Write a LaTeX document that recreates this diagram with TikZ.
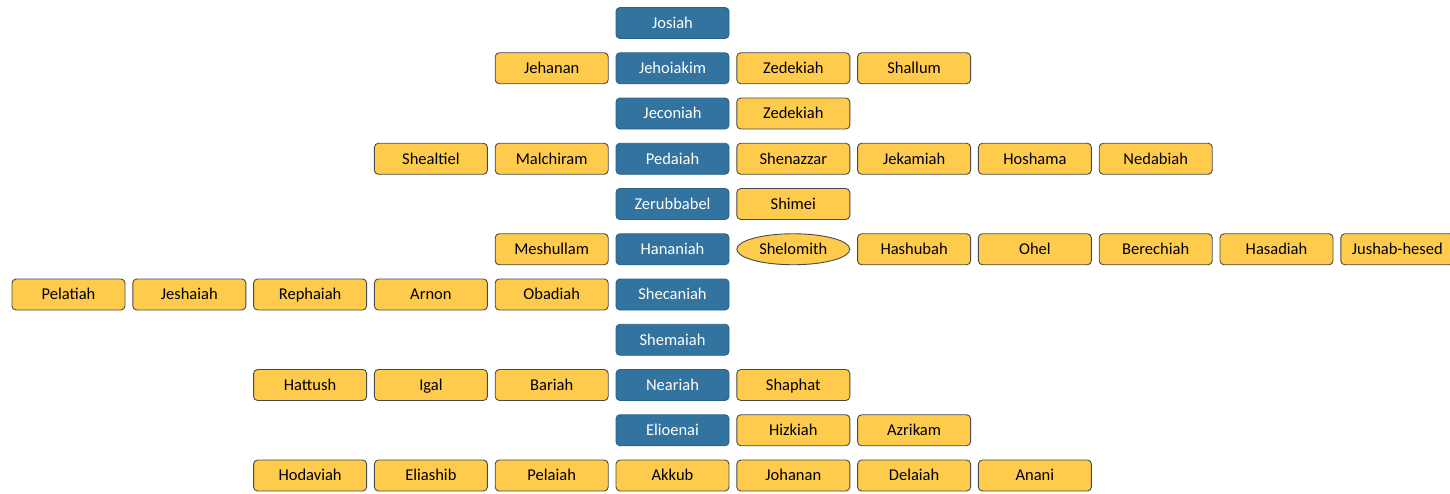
\documentclass[tikz,border=0pt]{standalone}
\usepackage{fontspec}
\setmainfont{Carlito}
\usetikzlibrary{shapes.geometric}
\definecolor{bluefill}{HTML}{33739F}
\definecolor{blueline}{HTML}{2B6189}
\definecolor{yelfill}{HTML}{FFCB4D}
\definecolor{yelline}{HTML}{4A4A4A}
\tikzset{
  base/.style={minimum width=113pt, minimum height=31pt, inner sep=0pt, font=\fontsize{16.5}{18}\selectfont, text height=2.25ex, text depth=0ex, line width=0.9pt},
  bluebox/.style={base, rectangle, rounded corners=4pt, fill=bluefill, draw=blueline, text=white},
  yelbox/.style={base, rectangle, rounded corners=4pt, fill=yelfill, draw=yelline, text=black},
  yelell/.style={base, ellipse, fill=yelfill, draw=yelline, text=black},
}
\begin{document}
\begin{tikzpicture}[x=1pt, y=-1pt]
\useasboundingbox (0,0) rectangle (1450,493);
\def\cx#1{68.5+120.8*#1}
\def\ry#1{23+45.25*#1}
% row 0
\node[bluebox] (josiah) at ({\cx{5}},{\ry{0}}) {Josiah};
% row 1
\node[yelbox] (jehanan) at ({\cx{4}},{\ry{1}}) {Jehanan};
\node[bluebox] (jehoiakim) at ({\cx{5}},{\ry{1}}) {Jehoiakim};
\node[yelbox] (zedekiah1) at ({\cx{6}},{\ry{1}}) {Zedekiah};
\node[yelbox] (shallum) at ({\cx{7}},{\ry{1}}) {Shallum};
% row 2
\node[bluebox] (jeconiah) at ({\cx{5}},{\ry{2}}) {Jeconiah};
\node[yelbox] (zedekiah2) at ({\cx{6}},{\ry{2}}) {Zedekiah};
% row 3
\node[yelbox] (shealtiel) at ({\cx{3}},{\ry{3}}) {Shealtiel};
\node[yelbox] (malchiram) at ({\cx{4}},{\ry{3}}) {Malchiram};
\node[bluebox] (pedaiah) at ({\cx{5}},{\ry{3}}) {Pedaiah};
\node[yelbox] (shenazzar) at ({\cx{6}},{\ry{3}}) {Shenazzar};
\node[yelbox] (jekamiah) at ({\cx{7}},{\ry{3}}) {Jekamiah};
\node[yelbox] (hoshama) at ({\cx{8}},{\ry{3}}) {Hoshama};
\node[yelbox] (nedabiah) at ({\cx{9}},{\ry{3}}) {Nedabiah};
% row 4
\node[bluebox] (zerubbabel) at ({\cx{5}},{\ry{4}}) {Zerubbabel};
\node[yelbox] (shimei) at ({\cx{6}},{\ry{4}}) {Shimei};
% row 5
\node[yelbox] (meshullam) at ({\cx{4}},{\ry{5}}) {Meshullam};
\node[bluebox] (hananiah) at ({\cx{5}},{\ry{5}}) {Hananiah};
\node[yelell] (shelomith) at ({\cx{6}},{\ry{5}}) {Shelomith};
\node[yelbox] (hashubah) at ({\cx{7}},{\ry{5}}) {Hashubah};
\node[yelbox] (ohel) at ({\cx{8}},{\ry{5}}) {Ohel};
\node[yelbox] (berechiah) at ({\cx{9}},{\ry{5}}) {Berechiah};
\node[yelbox] (hasadiah) at ({\cx{10}},{\ry{5}}) {Hasadiah};
\node[yelbox] (jushab) at ({\cx{11}},{\ry{5}}) {Jushab-hesed};
% row 6
\node[yelbox] (pelatiah) at ({\cx{0}},{\ry{6}}) {Pelatiah};
\node[yelbox] (jeshaiah) at ({\cx{1}},{\ry{6}}) {Jeshaiah};
\node[yelbox] (rephaiah) at ({\cx{2}},{\ry{6}}) {Rephaiah};
\node[yelbox] (arnon) at ({\cx{3}},{\ry{6}}) {Arnon};
\node[yelbox] (obadiah) at ({\cx{4}},{\ry{6}}) {Obadiah};
\node[bluebox] (shecaniah) at ({\cx{5}},{\ry{6}}) {Shecaniah};
% row 7
\node[bluebox] (shemaiah) at ({\cx{5}},{\ry{7}}) {Shemaiah};
% row 8
\node[yelbox] (hattush) at ({\cx{2}},{\ry{8}}) {Hattush};
\node[yelbox] (igal) at ({\cx{3}},{\ry{8}}) {Igal};
\node[yelbox] (bariah) at ({\cx{4}},{\ry{8}}) {Bariah};
\node[bluebox] (neariah) at ({\cx{5}},{\ry{8}}) {Neariah};
\node[yelbox] (shaphat) at ({\cx{6}},{\ry{8}}) {Shaphat};
% row 9
\node[bluebox] (elioenai) at ({\cx{5}},{\ry{9}}) {Elioenai};
\node[yelbox] (hizkiah) at ({\cx{6}},{\ry{9}}) {Hizkiah};
\node[yelbox] (azrikam) at ({\cx{7}},{\ry{9}}) {Azrikam};
% row 10
\node[yelbox] (hodaviah) at ({\cx{2}},{\ry{10}}) {Hodaviah};
\node[yelbox] (eliashib) at ({\cx{3}},{\ry{10}}) {Eliashib};
\node[yelbox] (pelaiah) at ({\cx{4}},{\ry{10}}) {Pelaiah};
\node[yelbox] (akkub) at ({\cx{5}},{\ry{10}}) {Akkub};
\node[yelbox] (johanan) at ({\cx{6}},{\ry{10}}) {Johanan};
\node[yelbox] (delaiah) at ({\cx{7}},{\ry{10}}) {Delaiah};
\node[yelbox] (anani) at ({\cx{8}},{\ry{10}}) {Anani};
\end{tikzpicture}
\end{document}
